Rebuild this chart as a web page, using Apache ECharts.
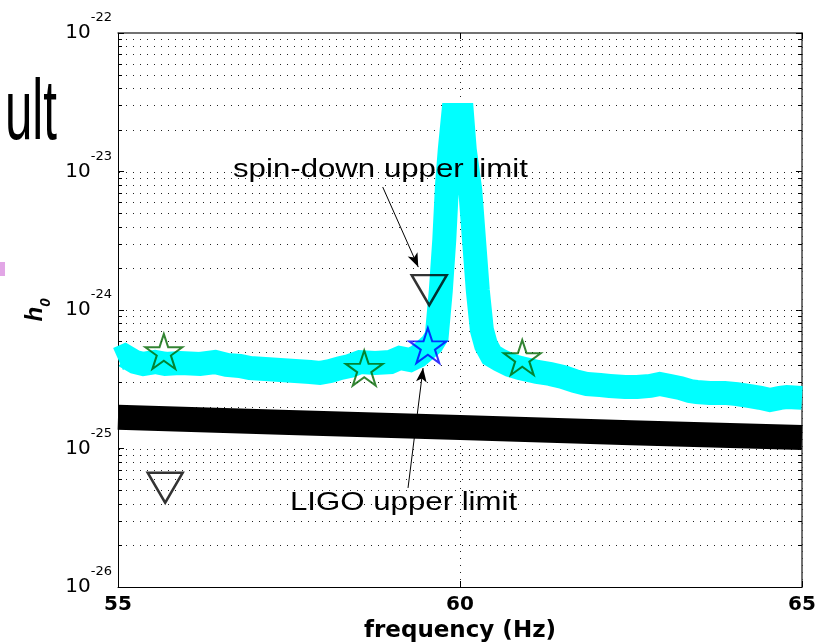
<!DOCTYPE html>
<html><head><meta charset="utf-8">
<script src="https://cdn.jsdelivr.net/npm/echarts@6/dist/echarts.min.js"></script>
<style>html,body{margin:0;padding:0;background:#fff}#c{width:821px;height:644px}</style>
</head><body><div id="c"></div>
<script>
// ---- tick labels ----
const xTicks = [55, 60, 65];
const yTickExponents = [-26, -25, -24, -23, -22];
const minorMultipliers = [2, 3, 4, 5, 6, 7, 8, 9];

// ---- cyan band (measured h0 upper limit curve) ----
const cyanFreq = [55.00,55.10,55.25,55.37,55.54,55.69,55.91,56.20,56.42,56.59,56.78,56.93,57.15,57.37,57.59,57.81,57.95,58.10,58.25,58.39,58.54,58.76,58.98,59.12,59.27,59.39,59.49,59.59,59.66,59.72,59.77,59.81,59.85,59.90,60.03,60.07,60.15,60.26,60.32,60.38,60.46,60.58,60.73,60.88,61.13,61.32,61.51,61.68,61.86,62.05,62.19,62.41,62.59,62.78,62.92,63.07,63.22,63.36,63.46,63.65,63.87,64.05,64.24,64.39,64.53,64.68,64.78,65.00];
const cyanH0 = [4.43e-25,4.66e-25,4.21e-25,4.08e-25,4.21e-25,4.08e-25,4.14e-25,4.08e-25,4.21e-25,4.01e-25,3.94e-25,3.81e-25,3.75e-25,3.69e-25,3.63e-25,3.57e-25,3.51e-25,3.63e-25,3.81e-25,3.94e-25,4.21e-25,4.14e-25,4.21e-25,4.50e-25,4.36e-25,4.66e-25,5.14e-25,5.68e-25,6.49e-25,1.39e-24,3.20e-24,7.99e-24,1.43e-23,2.56e-23,2.56e-23,1.43e-23,7.35e-24,1.39e-24,7.17e-25,5.59e-25,4.73e-25,4.36e-25,4.01e-25,3.81e-25,3.57e-25,3.45e-25,3.28e-25,3.07e-25,2.92e-25,2.87e-25,2.83e-25,2.78e-25,2.78e-25,2.83e-25,2.92e-25,2.83e-25,2.73e-25,2.60e-25,2.56e-25,2.52e-25,2.52e-25,2.47e-25,2.39e-25,2.32e-25,2.24e-25,2.32e-25,2.35e-25,2.32e-25];

// ---- black band ----
const blackFreq = [55, 57.5, 60, 62.5, 65];
const blackH0 = [1.68e-25, 1.54e-25, 1.42e-25, 1.30e-25, 1.20e-25];

// ---- markers ----
const greenStarFreq = [55.67, 58.60, 60.91];
const greenStarH0 = [5.02e-25, 3.81e-25, 4.54e-25];
const blueStarFreq = [59.53];
const blueStarH0 = [5.54e-25];
const triangleFreq = [55.69, 59.55];
const triangleH0 = [5.21e-26, 1.39e-24];

// ---- annotations ----
const annotationTexts = ['spin-down upper limit', 'LIGO upper limit'];
const arrowFromFreq = [58.87, 59.24];
const arrowFromH0 = [7.73e-24, 5.19e-26];
const arrowToFreq = [59.39, 59.46];
const arrowToH0 = [2.04e-24, 3.81e-25];

// Plot h0 in units of 1e-26 (avoids float rounding of tiny values inside the library)
const UNIT_EXP = yTickExponents[0];
const UNIT = Math.pow(10, UNIT_EXP);
const toPlot = h => h / UNIT;

const xMin = xTicks[0], xMax = xTicks[xTicks.length - 1];
const yMin = 1, yMax = Math.pow(10, yTickExponents[yTickExponents.length - 1] - UNIT_EXP);

const zip = (a, b) => a.map((v, i) => [v, toPlot(b[i])]);

// grid line values (major interior + minor), in plot units
const gridVals = [];
for (let k = 0; k < yTickExponents.length - 1; k++) {
  const base = Math.pow(10, yTickExponents[k] - UNIT_EXP);
  if (k > 0) gridVals.push([xMin, base, 1]);
  minorMultipliers.forEach(m => gridVals.push([xMin, m * base, 0]));
}

const starPath = 'path://M50,0 L61.2,34.5 L97.6,34.5 L68.2,55.9 L79.4,90.5 L50,69.1 L20.6,90.5 L31.8,55.9 L2.4,34.5 L38.8,34.5 Z';

const chart = echarts.init(document.getElementById('c'), null, {renderer: 'canvas'});
const axisBlack = {color: '#000', width: 1};
chart.setOption({
  animation: false,
  backgroundColor: '#fff',
  grid: {left: 118, right: 19, top: 33, bottom: 57, containLabel: false, outerBoundsMode: 'none'},
  xAxis: [{
    type: 'value', min: xMin, max: xMax, interval: 5, position: 'bottom',
    axisLine: {show: true, lineStyle: axisBlack},
    axisTick: {show: true, inside: true, length: 6, lineStyle: axisBlack},
    axisLabel: {show: true, color: '#000', fontFamily: 'DejaVu Sans', fontWeight: 'bold', fontSize: 20, margin: 8},
    splitLine: {show: true, lineStyle: {color: '#222', width: 1, type: [1, 6]}},
    name: 'frequency (Hz)', nameLocation: 'middle', nameGap: 30,
    nameTextStyle: {color: '#000', fontFamily: 'DejaVu Sans', fontWeight: 'bold', fontSize: 23}
  }, {
    type: 'value', min: xMin, max: xMax, interval: 5, position: 'top',
    axisLine: {show: true, onZero: false, lineStyle: {color: '#444', width: 1.5}},
    axisTick: {show: true, inside: true, length: 6, lineStyle: axisBlack},
    axisLabel: {show: false}, splitLine: {show: false}
  }],
  yAxis: [{
    type: 'log', logBase: 10, min: yMin, max: yMax, position: 'left',
    axisLine: {show: true, lineStyle: axisBlack},
    axisTick: {show: true, inside: true, length: 6, lineStyle: axisBlack},
    splitLine: {show: false},
    axisLabel: {
      show: true, margin: 6, color: '#000',
      formatter: v => '{b|10}{e|' + (Math.round(Math.log10(v)) + UNIT_EXP) + '}',
      rich: {
        b: {fontFamily: 'DejaVu Sans', fontSize: 20, color: '#000', verticalAlign: 'middle', lineHeight: 22},
        e: {fontFamily: 'DejaVu Sans', fontSize: 13, color: '#000', verticalAlign: 'middle', lineHeight: 14, padding: [0, 0, 30, 0]}
      }
    },
    name: '{h|h}{s|0}', nameLocation: 'middle', nameRotate: 90, nameGap: 65,
    nameTextStyle: {
      rich: {
        h: {fontFamily: 'Liberation Sans', fontSize: 24, fontWeight: 'bold', fontStyle: 'italic', color: '#000', verticalAlign: 'top', lineHeight: 30},
        s: {fontFamily: 'Liberation Sans', fontSize: 15, fontWeight: 'bold', fontStyle: 'italic', color: '#000', verticalAlign: 'bottom', lineHeight: 30}
      }
    }
  }, {
    type: 'log', logBase: 10, min: yMin, max: yMax, position: 'right',
    axisLine: {show: true, onZero: false, lineStyle: {color: '#444', width: 1.5}},
    axisTick: {show: true, inside: true, length: 6, lineStyle: axisBlack},
    axisLabel: {show: false}, splitLine: {show: false}
  }],
  series: [{
    type: 'custom', z: 1, silent: true, clip: true,
    data: gridVals,
    renderItem: (params, api) => {
      const v = api.value(1);
      const p1 = api.coord([xMin, v]);
      const p2 = api.coord([xMax, v]);
      const y = Math.round(p1[1]) + 0.5;
      const children = [{
        type: 'line', shape: {x1: p1[0] + 1, y1: y, x2: p2[0] - 1, y2: y},
        style: {stroke: '#222', lineWidth: 1, lineDash: [1, 6]}
      }];
      if (api.value(2) === 0) {
        children.push({type: 'line', shape: {x1: p1[0], y1: y, x2: p1[0] + 4, y2: y}, style: {stroke: '#000', lineWidth: 1}});
        children.push({type: 'line', shape: {x1: p2[0] - 4, y1: y, x2: p2[0], y2: y}, style: {stroke: '#000', lineWidth: 1}});
      }
      return {type: 'group', children};
    }
  }, {
    name: 'measured', type: 'line', z: 3, data: zip(cyanFreq, cyanH0), showSymbol: false, symbol: 'none',
    lineStyle: {color: '#00ffff', width: 24, cap: 'butt', join: 'miter', miterLimit: 4}
  }, {
    name: 'noise', type: 'line', z: 3, data: zip(blackFreq, blackH0), showSymbol: false, symbol: 'none',
    lineStyle: {color: '#000', width: 25, cap: 'butt', join: 'miter'},
    markLine: {
      silent: true, symbol: ['none', 'arrow'], symbolSize: [8, 14], precision: 10,
      label: {show: false},
      lineStyle: {color: '#000', width: 1, type: 'solid'},
      data: arrowFromFreq.map((f, i) => [{coord: [f, toPlot(arrowFromH0[i])]}, {coord: [arrowToFreq[i], toPlot(arrowToH0[i])]}])
    }
  }, {
    name: 'green stars', type: 'scatter', z: 5, data: zip(greenStarFreq, greenStarH0),
    symbol: starPath, symbolSize: [37, 35],
    itemStyle: {color: 'rgba(0,0,0,0)', borderColor: '#006600', borderWidth: 2}
  }, {
    name: 'blue star', type: 'scatter', z: 5, data: zip(blueStarFreq, blueStarH0),
    symbol: starPath, symbolSize: [37, 35],
    itemStyle: {color: 'rgba(0,0,0,0)', borderColor: '#0000ff', borderWidth: 2}
  }, {
    name: 'triangles', type: 'scatter', z: 5, data: zip(triangleFreq, triangleH0),
    symbol: 'triangle', symbolRotate: 180, symbolSize: [35, 30],
    itemStyle: {color: 'rgba(0,0,0,0)', borderColor: '#000', borderWidth: 2.5}
  }],
  graphic: [
    {type: 'text', z: 100, x: 57, y: 116, scaleX: 0.58, scaleY: 1, style: {text: 'ult', font: '85px "Liberation Sans"', fill: '#000', align: 'right', verticalAlign: 'middle'}},
    {type: 'rect', z: 100, shape: {x: 0, y: 262, width: 5, height: 14}, style: {fill: '#e2a6e6'}},
    {type: 'text', z: 100, x: 233, y: 170, scaleX: 1.2, style: {text: annotationTexts[0], font: '26px "Liberation Sans"', fill: '#000', align: 'left', verticalAlign: 'middle'}},
    {type: 'text', z: 100, x: 290, y: 503, scaleX: 1.2, style: {text: annotationTexts[1], font: '26px "Liberation Sans"', fill: '#000', align: 'left', verticalAlign: 'middle'}}
  ]
});
</script></body></html>
